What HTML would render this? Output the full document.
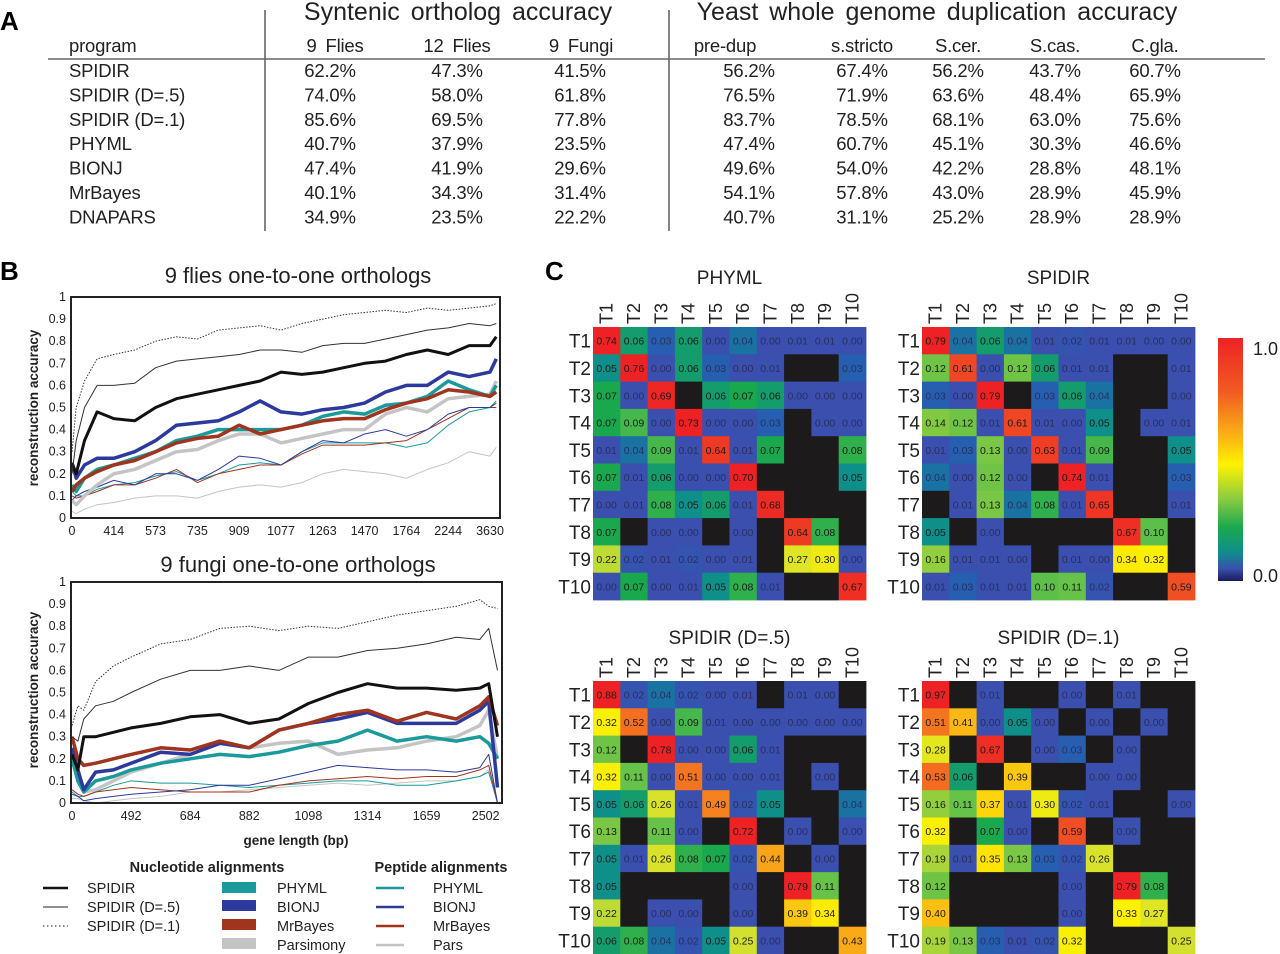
<!DOCTYPE html>
<html><head><meta charset="utf-8"><style>
html,body{margin:0;padding:0;background:#fff;}
svg{display:block;font-family:"Liberation Sans",sans-serif;}
.tb{font-size:18.5px;fill:#222;letter-spacing:-0.2px;}
.tt{font-size:25px;fill:#222;}
.tk{font-size:12.5px;fill:#222;}
.lg{font-size:14.5px;fill:#222;}
</style></head><body>
<svg id="fig" width="1280" height="954" viewBox="0 0 1280 954" xmlns="http://www.w3.org/2000/svg">
<g>
<text x="0" y="30" font-size="26" font-weight="bold">A</text>
<line x1="265" y1="10" x2="265" y2="231" stroke="#333" stroke-width="1.2"/>
<line x1="669" y1="10" x2="669" y2="231" stroke="#333" stroke-width="1.2"/>
<line x1="48" y1="59" x2="1265" y2="59" stroke="#666" stroke-width="1.5"/>
<text class="tt" x="458" y="20" text-anchor="middle" word-spacing="4">Syntenic ortholog accuracy</text>
<text class="tt" x="937" y="20" text-anchor="middle" word-spacing="4">Yeast whole genome duplication accuracy</text>
<g id="tbl"></g>
</g>
<g>
<text x="0" y="280" font-size="26" font-weight="bold">B</text>
<text x="298" y="283" font-size="22" text-anchor="middle" fill="#222">9 flies one-to-one orthologs</text>
<text x="298" y="572" font-size="22" text-anchor="middle" fill="#222">9 fungi one-to-one orthologs</text>
<text transform="translate(38,408) rotate(-90)" font-size="13.5" font-weight="bold" text-anchor="middle" fill="#222">reconstruction accuracy</text>
<text transform="translate(38,690) rotate(-90)" font-size="13.5" font-weight="bold" text-anchor="middle" fill="#222">reconstruction accuracy</text>
<text x="296" y="845" font-size="13.5" font-weight="bold" text-anchor="middle" fill="#222">gene length (bp)</text>
<g id="flies"></g>
<g id="fungi"></g>
<rect x="71" y="297" width="429" height="221" fill="none" stroke="#222" stroke-width="2"/>
<rect x="71" y="582" width="431" height="221" fill="none" stroke="#222" stroke-width="2"/>
<g>
<text x="207" y="872" font-size="14.5" font-weight="bold" text-anchor="middle" fill="#222">Nucleotide alignments</text>
<text x="441" y="872" font-size="14.5" font-weight="bold" text-anchor="middle" fill="#222">Peptide alignments</text>
<line x1="43" y1="888" x2="68" y2="888" stroke="#111" stroke-width="2.5"/>
<text class="lg" x="87" y="893">SPIDIR</text>
<line x1="43" y1="907" x2="68" y2="907" stroke="#222" stroke-width="1"/>
<text class="lg" x="87" y="912">SPIDIR (D=.5)</text>
<line x1="43" y1="926" x2="68" y2="926" stroke="#222" stroke-width="1" stroke-dasharray="1.5,2.5"/>
<text class="lg" x="87" y="931">SPIDIR (D=.1)</text>
<rect x="222" y="882" width="34" height="11" fill="#1a9a9a"/>
<text class="lg" x="277" y="893">PHYML</text>
<rect x="222" y="900" width="34" height="11" fill="#2c3a9e"/>
<text class="lg" x="277" y="912">BIONJ</text>
<rect x="222" y="919" width="34" height="11" fill="#a0341e"/>
<text class="lg" x="277" y="931">MrBayes</text>
<rect x="222" y="938" width="34" height="11" fill="#c4c4c4"/>
<text class="lg" x="277" y="950">Parsimony</text>
<line x1="376" y1="888" x2="404" y2="888" stroke="#1a9a9a" stroke-width="2.5"/>
<text class="lg" x="433" y="893">PHYML</text>
<line x1="376" y1="907" x2="404" y2="907" stroke="#2c3a9e" stroke-width="2.5"/>
<text class="lg" x="433" y="912">BIONJ</text>
<line x1="376" y1="926" x2="404" y2="926" stroke="#a0341e" stroke-width="2.5"/>
<text class="lg" x="433" y="931">MrBayes</text>
<line x1="376" y1="945" x2="404" y2="945" stroke="#c4c4c4" stroke-width="2.5"/>
<text class="lg" x="433" y="950">Pars</text>
</g>
</g>
<g>
<text x="545" y="280" font-size="26" font-weight="bold">C</text>
<g id="heat"></g>
<defs><linearGradient id="cbar" x1="0" y1="0" x2="0" y2="1">
<stop offset="0" stop-color="#ee2224"/><stop offset="0.22" stop-color="#f25a22"/><stop offset="0.4" stop-color="#fbb116"/><stop offset="0.52" stop-color="#fff200"/><stop offset="0.66" stop-color="#8ccc40"/><stop offset="0.78" stop-color="#1aa84e"/><stop offset="0.88" stop-color="#0f8f8a"/><stop offset="0.95" stop-color="#3a4fae"/><stop offset="1" stop-color="#1a1a5a"/></linearGradient></defs>
<rect x="1218" y="338" width="25" height="243" fill="url(#cbar)"/>
<text x="1253" y="355" font-size="18" fill="#222">1.0</text>
<text x="1253" y="582" font-size="18" fill="#222">0.0</text>
</g>
</svg>
<script>
const NS="http://www.w3.org/2000/svg";
function mk(tag,attrs,parent){const e=document.createElementNS(NS,tag);for(const k in attrs)e.setAttribute(k,attrs[k]);parent.appendChild(e);return e;}

// ---------- Table ----------
const tblPrograms=["SPIDIR","SPIDIR (D=.5)","SPIDIR (D=.1)","PHYML","BIONJ","MrBayes","DNAPARS"];
const tblHeaders=["9 Flies","12 Flies","9 Fungi","pre-dup","s.stricto","S.cer.","S.cas.","C.gla."];
const tblRows=[
["62.2%","47.3%","41.5%","56.2%","67.4%","56.2%","43.7%","60.7%"],
["74.0%","58.0%","61.8%","76.5%","71.9%","63.6%","48.4%","65.9%"],
["85.6%","69.5%","77.8%","83.7%","78.5%","68.1%","63.0%","75.6%"],
["40.7%","37.9%","23.5%","47.4%","60.7%","45.1%","30.3%","46.6%"],
["47.4%","41.9%","29.6%","49.6%","54.0%","42.2%","28.8%","48.1%"],
["40.1%","34.3%","31.4%","54.1%","57.8%","43.0%","28.9%","45.9%"],
["34.9%","23.5%","22.2%","40.7%","31.1%","25.2%","28.9%","28.9%"]];
const tbl=document.getElementById("tbl");
const hdrX=[335,457,581,725,862,958,1055,1155];
const valX=[330,457,580,749,862,958,1055,1155];
let t=mk("text",{x:69,y:52,class:"tb"},tbl);t.textContent="program";


tblHeaders.forEach((h,i)=>{const e=mk("text",{x:hdrX[i],y:52,class:"tb","text-anchor":"middle","word-spacing":"4"},tbl);e.textContent=h;

});
tblPrograms.forEach((p,r)=>{const y=77+r*24.4;
const e=mk("text",{x:69,y:y,class:"tb"},tbl);e.textContent=p;


tblRows[r].forEach((v,c)=>{const f=mk("text",{x:valX[c],y:y,class:"tb","text-anchor":"middle"},tbl);f.textContent=v;

});});

// ---------- Line charts ----------
const fliesTicks=["0","414","573","735","909","1077","1263","1470","1764","2244","3630"];
const fungiTicks=["0","492","684","882","1098","1314","1659","2502"];
const yTicks=["0","0.1","0.2","0.3","0.4","0.5","0.6","0.7","0.8","0.9","1"];
const fliesX=[0,0.1,0.3,0.6,1,1.5,2,2.5,3,3.5,4,4.5,5,5.5,6,6.5,7,7.5,8,8.5,9,9.5,10,10.15];
const fliesD1=[0.3,0.5,0.62,0.72,0.74,0.76,0.8,0.82,0.81,0.85,0.86,0.87,0.85,0.88,0.9,0.92,0.93,0.94,0.93,0.95,0.94,0.95,0.96,0.97];
const fliesD5=[0.2,0.35,0.5,0.6,0.6,0.61,0.68,0.71,0.72,0.73,0.74,0.76,0.76,0.75,0.78,0.79,0.79,0.81,0.83,0.85,0.86,0.88,0.87,0.88];
const fliesSpidir=[0.25,0.2,0.35,0.48,0.45,0.44,0.5,0.54,0.56,0.58,0.6,0.62,0.66,0.65,0.66,0.68,0.7,0.71,0.74,0.76,0.74,0.78,0.78,0.82];
const fliesNucPhyml=[0.15,0.12,0.18,0.22,0.24,0.27,0.3,0.35,0.37,0.4,0.4,0.4,0.4,0.42,0.46,0.48,0.47,0.51,0.52,0.55,0.62,0.58,0.55,0.6];
const fliesNucBionj=[0.25,0.18,0.24,0.27,0.27,0.3,0.35,0.42,0.43,0.44,0.48,0.53,0.48,0.47,0.49,0.5,0.52,0.57,0.6,0.6,0.66,0.64,0.66,0.72];
const fliesNucMrbayes=[0.12,0.15,0.18,0.21,0.24,0.26,0.3,0.34,0.36,0.37,0.42,0.38,0.4,0.42,0.44,0.45,0.45,0.49,0.52,0.54,0.58,0.57,0.55,0.57];
const fliesNucPars=[0.08,0.06,0.1,0.15,0.2,0.22,0.26,0.3,0.31,0.35,0.38,0.38,0.34,0.36,0.38,0.4,0.4,0.47,0.5,0.48,0.54,0.55,0.56,0.62];
const fliesPepPhyml=[0.12,0.1,0.1,0.13,0.15,0.16,0.19,0.21,0.17,0.2,0.24,0.25,0.24,0.3,0.34,0.34,0.34,0.34,0.32,0.34,0.42,0.48,0.5,0.53];
const fliesPepBionj=[0.08,0.1,0.12,0.14,0.17,0.15,0.2,0.2,0.17,0.22,0.28,0.27,0.24,0.3,0.35,0.34,0.38,0.4,0.37,0.4,0.47,0.5,0.5,0.52];
const fliesPepMrbayes=[0.1,0.09,0.1,0.12,0.15,0.15,0.18,0.22,0.16,0.2,0.22,0.24,0.24,0.29,0.33,0.33,0.33,0.34,0.35,0.4,0.45,0.5,0.5,0.5];
const fliesPepPars=[0.03,0.02,0.04,0.06,0.07,0.09,0.1,0.1,0.09,0.12,0.14,0.15,0.14,0.16,0.2,0.22,0.21,0.2,0.18,0.22,0.25,0.3,0.28,0.32];

const fungiX=[0,0.1,0.2,0.4,0.7,1,1.5,2,2.5,3,3.5,4,4.5,5,5.5,6,6.5,6.9,7.05,7.2];
const fungiD1=[0.35,0.44,0.42,0.55,0.62,0.66,0.72,0.74,0.79,0.8,0.78,0.8,0.79,0.82,0.85,0.87,0.89,0.92,0.89,0.88];
const fungiD5=[0.3,0.28,0.38,0.44,0.46,0.5,0.56,0.6,0.6,0.62,0.6,0.66,0.66,0.69,0.7,0.72,0.75,0.74,0.79,0.6];
const fungiSpidir=[0.22,0.15,0.3,0.3,0.32,0.34,0.36,0.39,0.4,0.36,0.38,0.45,0.5,0.54,0.52,0.52,0.51,0.52,0.54,0.3];
const fungiNucPhyml=[0.2,0.1,0.05,0.1,0.12,0.15,0.18,0.2,0.22,0.21,0.23,0.26,0.28,0.33,0.28,0.3,0.28,0.3,0.27,0.2];
const fungiNucBionj=[0.25,0.15,0.06,0.14,0.15,0.18,0.23,0.22,0.27,0.25,0.33,0.36,0.38,0.41,0.36,0.36,0.36,0.42,0.46,0.07];
const fungiNucMrbayes=[0.3,0.2,0.17,0.18,0.2,0.22,0.25,0.24,0.28,0.25,0.33,0.36,0.4,0.42,0.37,0.41,0.38,0.44,0.48,0.35];
const fungiNucPars=[0.2,0.1,0.05,0.06,0.1,0.14,0.18,0.22,0.27,0.25,0.27,0.28,0.22,0.24,0.25,0.28,0.3,0.35,0.42,0.2];
const fungiPepPhyml=[0.05,0.03,0.03,0.05,0.08,0.1,0.09,0.09,0.08,0.07,0.08,0.09,0.1,0.1,0.08,0.08,0.1,0.12,0.14,0];
const fungiPepBionj=[0.04,0.03,0.01,0.02,0.03,0.04,0.05,0.06,0.08,0.08,0.11,0.14,0.17,0.16,0.15,0.15,0.14,0.16,0.22,0];
const fungiPepMrbayes=[0.06,0.04,0.03,0.05,0.06,0.07,0.06,0.05,0.05,0.05,0.08,0.1,0.11,0.12,0.11,0.12,0.12,0.15,0.17,0];
const fungiPepPars=[0.02,0.02,0.01,0,0.01,0.02,0.03,0.05,0.05,0.06,0.07,0.08,0.09,0.08,0.09,0.1,0.1,0.12,0.15,0];

const TEAL="#1a9a9a",BLUE="#2c3a9e",RED="#a0341e",GRAY="#c4c4c4";
function drawChart(g,xs,ticks,step,ybot,series,name){
 const X=i=>72+i*step, Y=v=>ybot-v*221;
 yTicks.forEach((l,i)=>{const e=mk("text",{x:66,y:Y(i/10)+4,class:"tk","text-anchor":"end"},g);e.textContent=l;
 
 });
 ticks.forEach((l,i)=>{const e=mk("text",{x:X(i),y:ybot+17,class:"tk","text-anchor":"middle"},g);e.textContent=l;
 
 });
 series.forEach(s=>{const pts=xs.map((x,i)=>X(x).toFixed(1)+","+Y(s.v[i]).toFixed(1)).join(" ");
 const p=mk("polyline",{points:pts,fill:"none",stroke:s.c,"stroke-width":s.w,"stroke-linejoin":"round"},g);
 if(s.d)p.setAttribute("stroke-dasharray",s.d);
 
 });
}
drawChart(document.getElementById("flies"),fliesX,fliesTicks,41.8,518,[
{n:"pep-pars",v:fliesPepPars,c:GRAY,w:1},{n:"pep-phyml",v:fliesPepPhyml,c:TEAL,w:1},{n:"pep-mrbayes",v:fliesPepMrbayes,c:RED,w:1},{n:"pep-bionj",v:fliesPepBionj,c:BLUE,w:1},
{n:"nuc-pars",v:fliesNucPars,c:GRAY,w:3.5},{n:"nuc-phyml",v:fliesNucPhyml,c:TEAL,w:3.5},{n:"nuc-mrbayes",v:fliesNucMrbayes,c:RED,w:3.5},{n:"nuc-bionj",v:fliesNucBionj,c:BLUE,w:3.5},
{n:"spidir",v:fliesSpidir,c:"#111",w:3},{n:"spidir-d5",v:fliesD5,c:"#333",w:1},{n:"spidir-d1",v:fliesD1,c:"#333",w:1,d:"1.5,1.5"}],"flies");
drawChart(document.getElementById("fungi"),fungiX,fungiTicks,59.1,803,[
{n:"pep-pars",v:fungiPepPars,c:GRAY,w:1},{n:"pep-phyml",v:fungiPepPhyml,c:TEAL,w:1},{n:"pep-mrbayes",v:fungiPepMrbayes,c:RED,w:1},{n:"pep-bionj",v:fungiPepBionj,c:BLUE,w:1},
{n:"nuc-pars",v:fungiNucPars,c:GRAY,w:3.5},{n:"nuc-phyml",v:fungiNucPhyml,c:TEAL,w:3.5},{n:"nuc-bionj",v:fungiNucBionj,c:BLUE,w:3.5},{n:"nuc-mrbayes",v:fungiNucMrbayes,c:RED,w:3.5},
{n:"spidir",v:fungiSpidir,c:"#111",w:3},{n:"spidir-d5",v:fungiD5,c:"#333",w:1},{n:"spidir-d1",v:fungiD1,c:"#333",w:1,d:"1.5,1.5"}],"fungi");

// ---------- Heatmaps ----------
const N=null;
const heatLabels=["T1","T2","T3","T4","T5","T6","T7","T8","T9","T10"];
const heatPhyml=[
[.74,.06,.03,.06,.00,.04,.00,.01,.01,.00],
[.05,.76,.00,.06,.03,.00,.01,N,N,.03],
[.07,.00,.69,N,.06,.07,.06,.00,.00,.00],
[.07,.09,.00,.73,.00,.00,.03,N,.00,.00],
[.01,.04,.09,.01,.64,.01,.07,N,N,.08],
[.07,.01,.06,.00,.00,.70,N,N,N,.05],
[.00,.01,.08,.05,.06,.01,.68,N,N,N],
[.07,N,.00,.00,N,.00,N,.64,.08,N],
[.22,.02,.01,.02,.00,.01,N,.27,.30,.00],
[.00,.07,.00,.01,.05,.08,.01,N,N,.67]];
const heatSpidir=[
[.79,.04,.06,.04,.01,.02,.01,.01,.00,.00],
[.12,.61,.00,.12,.06,.01,.01,N,N,.01],
[.03,.00,.79,N,.03,.06,.04,N,N,.00],
[.14,.12,.01,.61,.01,.00,.05,N,.00,.01],
[.01,.03,.13,.00,.63,.01,.09,N,N,.05],
[.04,.00,.12,.00,N,.74,.01,N,N,.03],
[N,.01,.13,.04,.08,.01,.65,N,N,.01],
[.05,N,.00,N,N,N,N,.67,.10,N],
[.16,.01,.01,.00,N,.01,.00,.34,.32,N],
[.01,.03,.01,.01,.10,.11,.02,N,N,.59]];
const heatD5=[
[.88,.02,.04,.02,.00,.01,N,.01,.00,N],
[.32,.52,.00,.09,.01,.00,.00,.00,.00,.00],
[.12,N,.78,.00,.00,.06,.01,N,N,N],
[.32,.11,.00,.51,.00,.00,.01,N,.00,N],
[.05,.06,.26,.01,.49,.02,.05,N,N,.04],
[.13,N,.11,.00,N,.72,N,.00,N,.00],
[.05,.01,.26,.08,.07,.02,.44,N,.00,N],
[.05,N,N,N,N,.00,N,.79,.11,N],
[.22,N,.00,.00,N,.00,N,.39,.34,N],
[.06,.08,.04,.02,.05,.25,.00,N,N,.43]];
const heatD1=[
[.97,N,.01,N,N,.00,N,.01,N,N],
[.51,.41,.00,.05,.00,N,.00,N,.00,N],
[.28,N,.67,N,.00,.03,N,.00,N,N],
[.53,.06,N,.39,N,N,.00,.00,N,N],
[.16,.11,.37,.01,.30,.02,.01,N,N,.00],
[.32,N,.07,.00,N,.59,N,.00,N,N],
[.19,.01,.35,.13,.03,.02,.26,N,N,N],
[.12,N,N,N,N,.00,N,.79,.08,N],
[.40,N,N,N,N,.00,N,.33,.27,N],
[.19,.13,.03,.01,.02,.32,N,N,N,.25]];
const cstops=[[0,[58,79,174]],[0.015,[58,79,174]],[0.035,[32,100,176]],[0.05,[15,143,138]],[0.07,[26,168,78]],[0.1,[92,191,74]],[0.15,[140,204,64]],[0.25,[212,224,48]],[0.33,[255,242,0]],[0.42,[251,177,22]],[0.5,[244,122,32]],[0.6,[240,74,35]],[0.7,[238,34,36]],[1,[238,34,36]]];
function col(v){for(let i=1;i<cstops.length;i++){if(v<=cstops[i][0]){const a=cstops[i-1],b=cstops[i],f=(v-a[0])/(b[0]-a[0]||1);
return "rgb("+a[1].map((c,k)=>Math.round(c+(b[1][k]-c)*f)).join(",")+")";}}return "rgb(238,34,36)";}
const heat=document.getElementById("heat");
function drawHeat(M,x0,y0,title,name,toff){
 const cs=27.3,g=mk("g",{},heat);
 
 
 const tt=mk("text",{x:x0+cs*5,y:y0-43+toff,"font-size":"19","text-anchor":"middle",fill:"#222"},g);tt.textContent=title;
 
 
 heatLabels.forEach((l,i)=>{
  const cx=x0+cs*(i+0.5);
  const c=mk("text",{x:cx+6,y:y0-3,"font-size":"18",fill:"#222",transform:"rotate(-90,"+(cx+6)+","+(y0-3)+")"},g);c.textContent=l;
  
  
  const r=mk("text",{x:x0-2,y:y0+cs*(i+0.5)+7,"font-size":"19","text-anchor":"end",fill:"#222"},g);r.textContent=l;
  
  
 });
 M.forEach((row,r)=>row.forEach((v,c)=>{
  const x=x0+c*cs,y=y0+r*cs;
  const rc=mk("rect",{x:x,y:y,width:cs+0.4,height:cs+0.4,fill:v===null?"#1c1a1a":col(v)},g);
  
  
  if(v!==null){const tx=mk("text",{x:x+cs/2,y:y+cs/2+4,"font-size":"10.5","text-anchor":"middle",fill:v<0.05?"#2a2f60":"#1a1a1a"},g);
  tx.textContent=v.toFixed(2);
  
  }
 }));
}
drawHeat(heatPhyml,593,327,"PHYML","heatmap-phyml",0);
drawHeat(heatSpidir,922,327,"SPIDIR","heatmap-spidir",0);
drawHeat(heatD5,593,681,"SPIDIR (D=.5)","heatmap-spidir-d5",6);
drawHeat(heatD1,922,681,"SPIDIR (D=.1)","heatmap-spidir-d1",6);
</script>
</body></html>
